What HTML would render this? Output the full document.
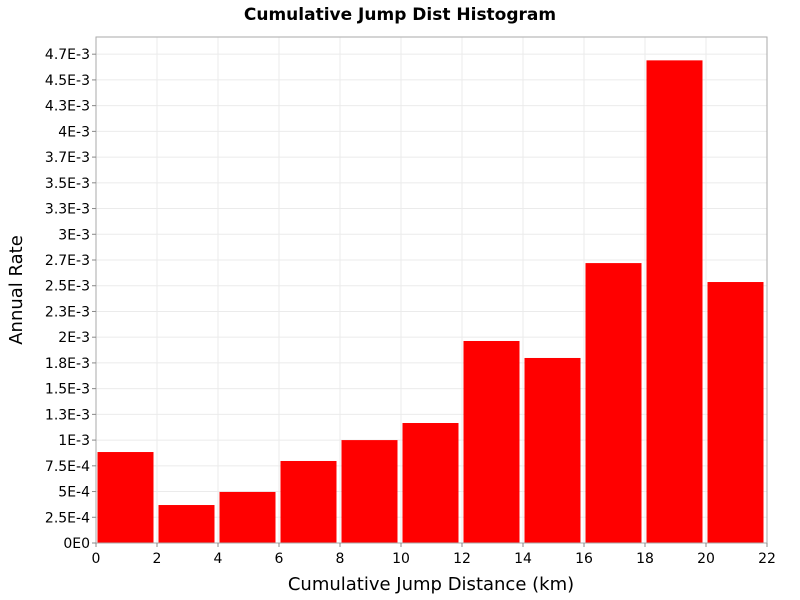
<!DOCTYPE html>
<html><head><meta charset="utf-8"><style>body{margin:0;background:#fff}svg{display:block;font-family:"DejaVu Sans","Liberation Sans",sans-serif}</style></head>
<body>
<svg id="c" width="800" height="600"></svg>
<script>
const binStarts=[0,2,4,6,8,10,12,14,16,18,20];
const binWidth=2;
const rates=[0.000884,0.000369,0.000496,0.000797,0.001,0.001166,0.001963,0.001798,0.00272,0.00469,0.002536];
const yTicks=[0,0.00025,0.0005,0.00075,0.001,0.00125,0.0015,0.00175,0.002,0.00225,0.0025,0.00275,0.003,0.00325,0.0035,0.00375,0.004,0.00425,0.0045,0.00475];
const yTickLabels=["0E0","2.5E-4","5E-4","7.5E-4","1E-3","1.3E-3","1.5E-3","1.8E-3","2E-3","2.3E-3","2.5E-3","2.7E-3","3E-3","3.3E-3","3.5E-3","3.7E-3","4E-3","4.3E-3","4.5E-3","4.7E-3"];
const xTicks=[0,2,4,6,8,10,12,14,16,18,20,22];
const L=96,R=767,T=37,B=543,xMax=22,yMax=0.004917;
const x=v=>L+(R-L)*v/xMax, y=v=>B-(B-T)*v/yMax;
const svg=document.getElementById('c'),NS='http://www.w3.org/2000/svg';
function mk(t,a,p){const e=document.createElementNS(NS,t);for(const k in a)e.setAttribute(k,a[k]);(p||svg).appendChild(e);return e;}
const g=mk('g',{});


yTicks.forEach(v=>mk('line',{x1:L,x2:R,y1:y(v),y2:y(v),stroke:'#ebebeb'},g));
xTicks.forEach(v=>mk('line',{x1:x(v),x2:x(v),y1:T,y2:B,stroke:'#ebebeb'},g));
rates.forEach((r,i)=>{const b=mk('rect',{x:x(binStarts[i])+1.5,width:x(binWidth)-L-5,y:y(r),height:B-y(r),fill:'#ff0000'});

});
const fr=mk('rect',{x:L,y:T,width:R-L,height:B-T,fill:'none',stroke:'#aaa'});


yTicks.forEach((v,i)=>{mk('line',{x1:L-4,x2:L,y1:y(v),y2:y(v),stroke:'#888'});
const t=mk('text',{x:L-6,y:y(v)+5,'text-anchor':'end','font-size':14,fill:'#000'});t.textContent=yTickLabels[i];

});
xTicks.forEach(v=>{mk('line',{x1:x(v),x2:x(v),y1:B,y2:B+4,stroke:'#888'});
const t=mk('text',{x:x(v),y:B+20,'text-anchor':'middle','font-size':14,fill:'#000'});t.textContent=v;

});
let t=mk('text',{x:400,y:20,'text-anchor':'middle','font-size':17,'font-weight':'bold'});t.textContent='Cumulative Jump Dist Histogram';


t=mk('text',{x:431,y:590,'text-anchor':'middle','font-size':18});t.textContent='Cumulative Jump Distance (km)';


t=mk('text',{x:22,y:290,'text-anchor':'middle','font-size':18,transform:'rotate(-90 22 290)'});t.textContent='Annual Rate';


</script>
</body></html>
